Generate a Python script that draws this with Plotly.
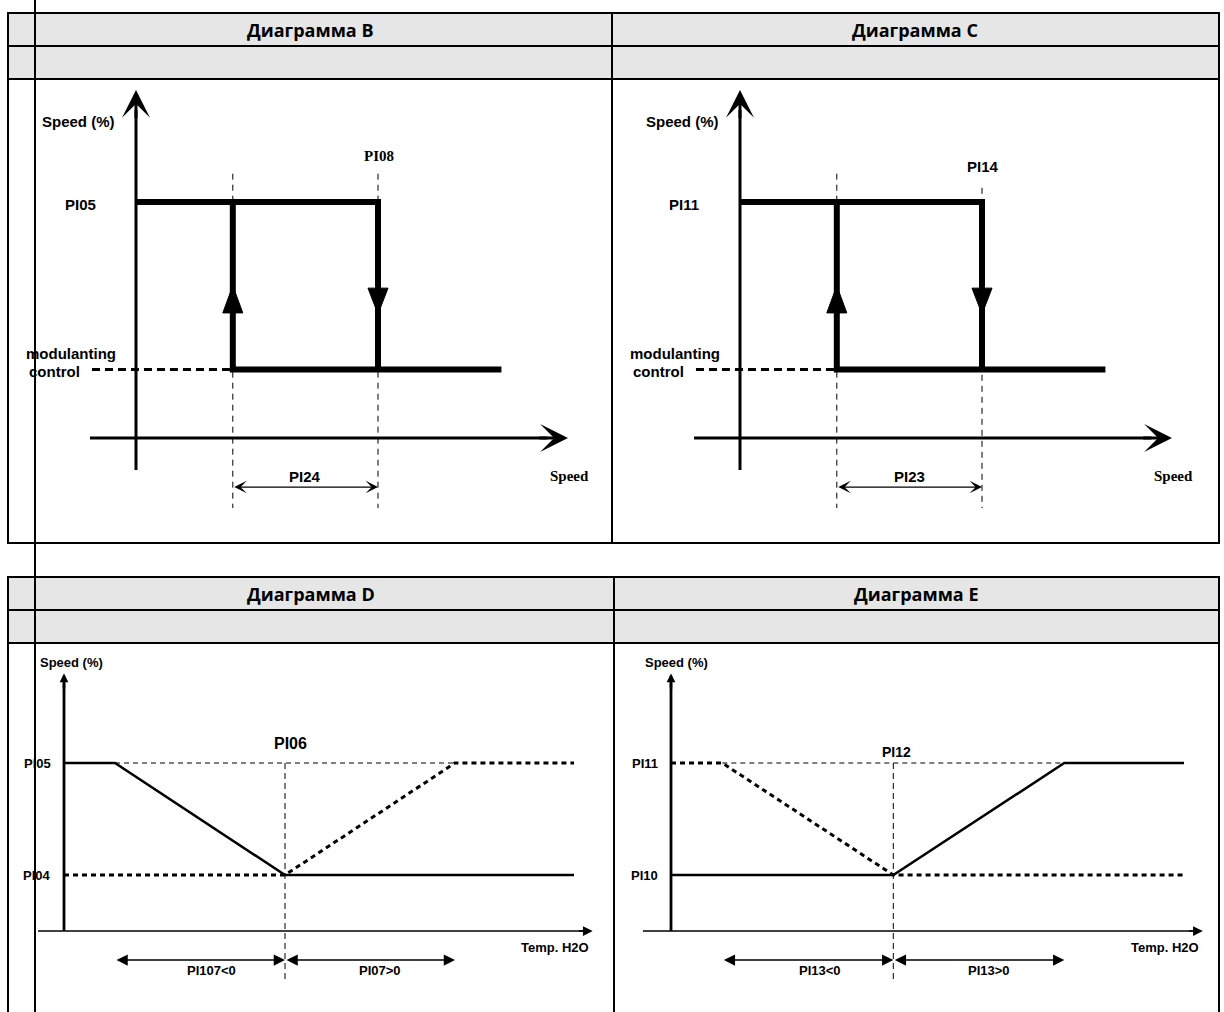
import plotly.graph_objects as go

W, H = 1224, 1012

# ---------------- data (diagram units) ----------------
# diagrams B / C : hysteresis of the speed
hyst_top_x = [0, 10, 10]          # PI05 level -> switch down at PI08
hyst_top_y = [10, 10, 2.9]
hyst_bot_x = [4, 4, 15.1]         # switch up at PI08-PI24, low level to the right
hyst_bot_y = [10, 2.9, 2.9]
hyst_mod_x = [-1.82, 4]           # modulating control, dashed
hyst_mod_y = [2.9, 2.9]
hyst_guide_x = [4, 10]
hyst_guide_top_B = [11.2, 11.2]
hyst_guide_top_C = [11.2, 10.6]
hyst_guide_bot = -2.97
hyst_arrow_x = [4, 10]
hyst_arrow_tip = [6.45, 5.25]     # up arrow on the left, down arrow on the right
hyst_arrow_base = [5.3, 6.35]
hyst_band_y = -2.08

# diagrams D / E : speed vs water temperature
ramp_lo_x = [0, 3, 13, 30]        # falling ramp
ramp_lo_y = [15, 15, 5, 5]
ramp_hi_x = [0, 13, 23, 30]       # rising ramp
ramp_hi_y = [5, 5, 15, 15]
ramp_guide_x = [3, 23]
ramp_guide_y = [15, 15]
ramp_mid = 13
ramp_mid_bot = -4.64
ramp_band_y = -2.6
ramp_band_x = [3, 13, 23]

headers = ["Диаграмма B", "Диаграмма C", "Диаграмма D", "Диаграмма E"]

# ---------------- layout helpers ----------------
fig = go.Figure()
shapes = []
ann = []


def px(x):
    return x / W


def py(y):
    return 1 - y / H


def hline(x0, x1, y, w=2):
    shapes.append(dict(type="line", xref="paper", yref="paper", x0=px(x0), x1=px(x1),
                       y0=py(y), y1=py(y), line=dict(color="black", width=w)))


def vline(x, y0, y1, w=2):
    shapes.append(dict(type="line", xref="paper", yref="paper", x0=px(x), x1=px(x),
                       y0=py(y0), y1=py(y1), line=dict(color="black", width=w)))


def grey(x0, x1, y0, y1):
    shapes.append(dict(type="rect", xref="paper", yref="paper", x0=px(x0), x1=px(x1),
                       y0=py(y1), y1=py(y0), fillcolor="#e6e6e6", line=dict(width=0),
                       layer="below"))


# table backgrounds
grey(8, 1219, 13, 79)
grey(8, 1219, 577, 643)
# top table
hline(7, 1220, 13)
hline(7, 1220, 46)
hline(7, 1220, 79)
hline(7, 1220, 543)
vline(8, 12, 544)
vline(1219, 12, 544)
vline(612, 12, 544)
# bottom table
hline(7, 1220, 577)
hline(7, 1220, 610)
hline(7, 1220, 643)
vline(8, 576, 1012)
vline(1219, 576, 1012)
vline(614, 576, 1012)
# stray long vertical
vline(35, 0, 1012)

hfont = dict(family="Open Sans, Noto Sans, sans-serif", size=18, color="black")
for t, cx, cy in zip(headers, [310, 915, 311, 916], [29.5, 29.5, 594, 594]):
    ann.append(dict(text="<b>%s</b>" % t, xref="paper", yref="paper", x=px(cx), y=py(cy),
                    showarrow=False, font=hfont, xanchor="center", yanchor="middle"))

layout_axes = {}


def panel(i, box, origin, scale):
    x0, y0, x1, y1 = box
    ox, oy = origin
    sx, sy = scale
    sfx = "" if i == 1 else str(i)
    layout_axes["xaxis" + sfx] = dict(domain=[px(x0), px(x1)], range=[(x0 - ox) / sx, (x1 - ox) / sx],
                                      visible=False, fixedrange=True, anchor="y" + sfx)
    layout_axes["yaxis" + sfx] = dict(domain=[py(y1), py(y0)], range=[(oy - y1) / sy, (oy - y0) / sy],
                                      visible=False, fixedrange=True, anchor="x" + sfx)
    return "x" + sfx, "y" + sfx


def line(xr, yr, x, y, w, dash="solid"):
    fig.add_trace(go.Scatter(x=x, y=y, xaxis=xr, yaxis=yr, mode="lines", hoverinfo="skip",
                             line=dict(color="black", width=w, dash=dash), showlegend=False))


def arrow(xr, yr, x0, y0, x1, y1, head, w, size, both=False):
    ann.append(dict(x=x1, y=y1, ax=x0, ay=y0, xref=xr, yref=yr, axref=xr, ayref=yr,
                    text="", showarrow=True, arrowhead=head, arrowwidth=w, arrowsize=size,
                    arrowcolor="black", standoff=0, startstandoff=0, startarrowhead=head,
                    startarrowsize=size, arrowside="end+start" if both else "end"))


def label(xr, yr, x, y, t, font, xa="center"):
    ann.append(dict(x=x, y=y, xref=xr, yref=yr, text=t, showarrow=False, font=font,
                    xanchor=xa, yanchor="middle"))


sans = dict(family="Liberation Sans, Arial, sans-serif", size=15, color="black")
serif = dict(family="Liberation Serif, Times New Roman, serif", size=15, color="black")
narrow = dict(family="Liberation Sans Narrow, Arial Narrow, Liberation Sans, sans-serif",
              size=14, color="black")

# ---------------- diagrams B and C ----------------
hyst_panels = [
    (1, 136, hyst_guide_top_B, "PI05", "PI08", serif, "PI24"),
    (2, 740, hyst_guide_top_C, "PI11", "PI14", sans, "PI23"),
]
for i, ox, gtop, ylab, hlab, hfnt, blab in hyst_panels:
    box = (15, 82, 608, 540) if i == 1 else (616, 82, 1216, 540)
    sx = 24.2
    xr, yr = panel(i, box, (ox, 438), (sx, 23.6))
    # axes
    line(xr, yr, [0, 0], [-1.36, 13.9], 3)
    line(xr, yr, [-1.9, 17.0], [0, 0], 3)
    arrow(xr, yr, 0, 13.5, 0, 14.75, 3, 3, 1.55)
    arrow(xr, yr, 16.6, 0, 17.85, 0, 3, 3, 1.55)
    # guides
    for gx, gt in zip(hyst_guide_x, gtop):
        line(xr, yr, [gx, gx], [gt, hyst_guide_bot], 1, "6px,5px")
    line(xr, yr, hyst_mod_x, hyst_mod_y, 3, "8px,5px")
    # hysteresis
    line(xr, yr, hyst_top_x, hyst_top_y, 6)
    line(xr, yr, hyst_bot_x, hyst_bot_y, 6)
    half = 10 / sx
    for ax_, tip, base in zip(hyst_arrow_x, hyst_arrow_tip, hyst_arrow_base):
        fig.add_trace(go.Scatter(x=[ax_ - half, ax_ + half, ax_, ax_ - half],
                                 y=[base, base, tip, base], xaxis=xr, yaxis=yr,
                                 mode="lines", fill="toself", fillcolor="black",
                                 line=dict(color="black", width=1),
                                 hoverinfo="skip", showlegend=False))
    arrow(xr, yr, hyst_guide_x[0], hyst_band_y, hyst_guide_x[1], hyst_band_y, 3, 1.3, 1.6, both=True)
    # labels
    label(xr, yr, -2.36, 13.4, "<b>Speed (%)</b>", sans)
    label(xr, yr, -2.3, 9.9, "<b>%s</b>" % ylab, sans)
    label(xr, yr, 10.06, 11.95 if i == 1 else 11.5, "<b>%s</b>" % hlab, hfnt)
    label(xr, yr, -0.76, 3.6, "<b>modulanting</b>", sans, "right")
    label(xr, yr, -2.22, 2.8, "<b>control</b>", sans, "right")
    label(xr, yr, 17.9, -1.6, "<b>Speed</b>", serif)
    label(xr, yr, 7, -1.65, "<b>%s</b>" % blab, sans)

# ---------------- diagrams D and E ----------------
ramp_panels = [
    (3, 64, 17.0, ramp_lo_x, ramp_lo_y, ramp_hi_x, ramp_hi_y, "PI05", "PI04", "PI06",
     "PI107<0", "PI07>0"),
    (4, 671, 17.1, ramp_hi_x, ramp_hi_y, ramp_lo_x, ramp_lo_y, "PI11", "PI10", "PI12",
     "PI13<0", "PI13>0"),
]
for i, ox, sx, sol_x, sol_y, dsh_x, dsh_y, ytop, ybot, mlab, l1, l2 in ramp_panels:
    box = (15, 646, 610, 1010) if i == 3 else (618, 646, 1216, 1010)
    xr, yr = panel(i, box, (ox, 931), (sx, 11.2))
    axis_start = (38 - ox) / sx if i == 3 else (643 - ox) / sx
    line(xr, yr, [0, 0], [0, 22.2], 2.8)
    arrow(xr, yr, 0, 21.5, 0, 23.0, 2, 2.5, 0.7)
    line(xr, yr, [axis_start, 30.6], [0, 0], 1.5)
    arrow(xr, yr, 30.2, 0, 31.1, 0, 2, 1.5, 1.3)
    line(xr, yr, ramp_guide_x, ramp_guide_y, 1, "5px,4px")
    line(xr, yr, [ramp_mid, ramp_mid], [15, ramp_mid_bot], 1, "6px,4px")
    line(xr, yr, dsh_x, dsh_y, 3, "5px,4px")
    line(xr, yr, sol_x, sol_y, 2.5)
    arrow(xr, yr, ramp_band_x[0], ramp_band_y, ramp_band_x[1], ramp_band_y, 2, 1.5, 1.5, both=True)
    arrow(xr, yr, ramp_band_x[1], ramp_band_y, ramp_band_x[2], ramp_band_y, 2, 1.5, 1.5, both=True)
    label(xr, yr, axis_start, 24.0, "<b>Speed (%)</b>", dict(narrow, size=13), "left")
    label(xr, yr, -0.65, 15, "<b>%s</b>" % ytop, dict(narrow, size=13), "right")
    label(xr, yr, -0.65, 5, "<b>%s</b>" % ybot, dict(narrow, size=13), "right")
    label(xr, yr, 13.3 if i == 3 else 13.16, 16.7 if i == 3 else 16.0, "<b>%s</b>" % mlab,
          dict(narrow, size=16 if i == 3 else 14))
    label(xr, yr, 31.0, -1.5, "<b>Temp. H2O</b>", dict(narrow, size=13), "right")
    label(xr, yr, 8.7, -3.5, "<b>%s</b>" % l1, dict(narrow, size=13))
    label(xr, yr, 18.6, -3.5, "<b>%s</b>" % l2, dict(narrow, size=13))

fig.update_layout(width=W, height=H, margin=dict(l=0, r=0, t=0, b=0),
                  paper_bgcolor="white", plot_bgcolor="rgba(0,0,0,0)",
                  shapes=shapes, annotations=ann, showlegend=False, **layout_axes)

fig.write_html("out.html", config={"displayModeBar": False},
               post_script="document.body.style.margin='0';")
